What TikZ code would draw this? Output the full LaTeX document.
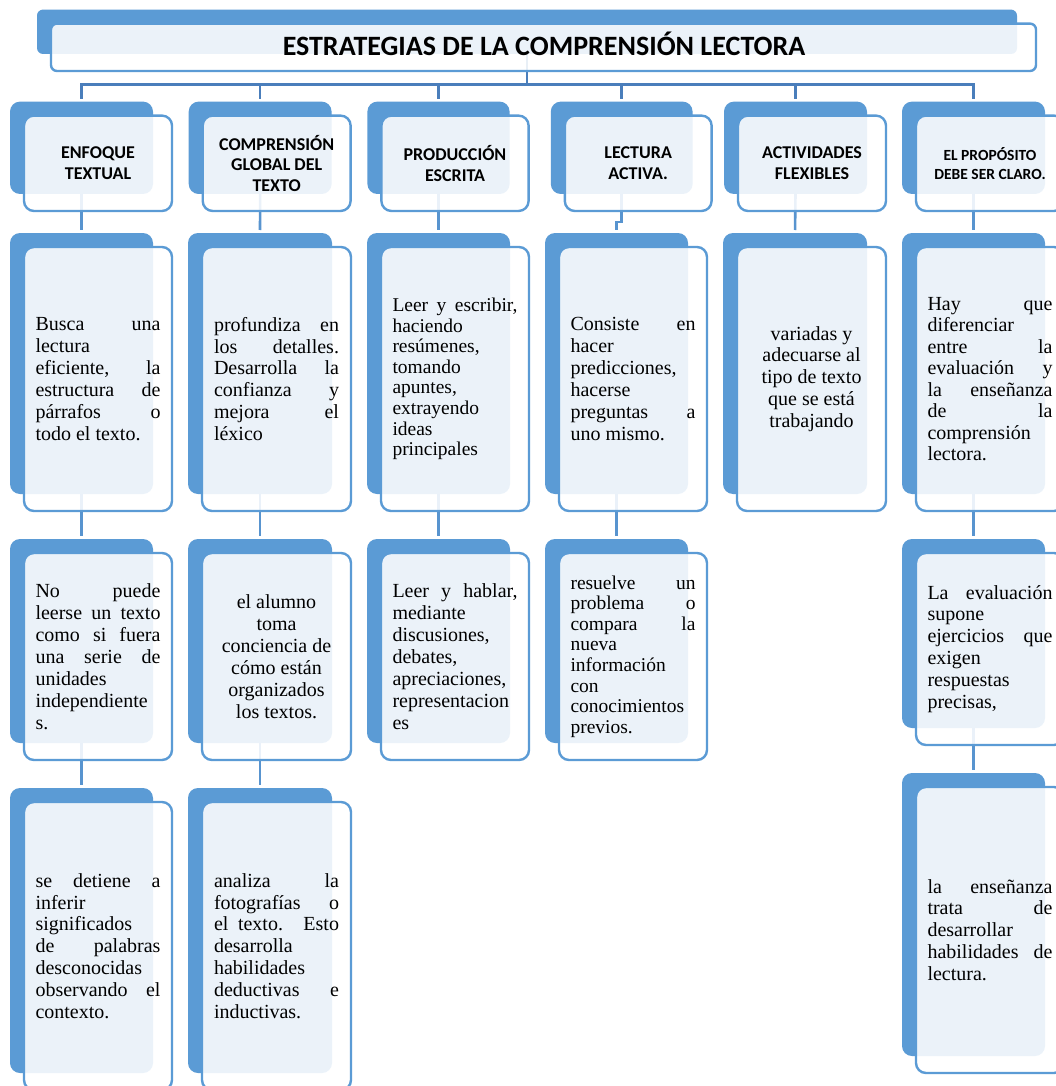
\documentclass[tikz,border=0pt]{standalone}
\usepackage{fontspec}
\setmainfont{Liberation Serif}
\newfontfamily\calib{Carlito}
\usetikzlibrary{fit}
\pgfdeclarelayer{backl}
\pgfdeclarelayer{connl}
\pgfsetlayers{backl,connl,main}
\definecolor{acc}{HTML}{5B9BD5}
\definecolor{busc}{HTML}{4A7EBB}
\definecolor{conc}{HTML}{5894CF}
\tolerance=10000 \hyphenpenalty=10000 \exhyphenpenalty=10000 \hbadness=10000 \vbadness=10000
\tikzset{
 backbox/.style={fill=acc, rounded corners=10pt, inner sep=0pt, outer sep=0pt},
 frontbox/.style={draw=acc, line width=2.4pt, fill=white, fill opacity=0.88, rounded corners=10pt, inner sep=0pt, outer sep=0pt},
 txt/.style={inner sep=0pt, text=black},
 lab/.style={inner sep=0pt, align=center, text=black, font=\calib\bfseries\fontsize{18}{20.7}\selectfont},
 labs/.style={inner sep=0pt, align=center, text=black, font=\calib\bfseries\fontsize{15.5}{18.8}\selectfont},
 busline/.style={draw=busc, line width=2.6pt},
 conline/.style={draw=conc, line width=2.6pt, shorten >=3pt},
}
\newcommand\cardbox[7][txt]{%
 \begin{pgfonlayer}{backl}
  \node[backbox, fit={(#3,#4) (#5,#6)}] (#2b) {};
 \end{pgfonlayer}
 \node[frontbox, fit={({#3+14},{#4+14}) ({#5+19},{#6+17})}] (#2) {};
 \node[#1] (#2t) at (#2.center) {#7};
}
\newcommand\jt[2][21.9]{\parbox{125pt}{\fontsize{20}{#1}\selectfont #2}}
\newcommand\jts[1]{\parbox{125pt}{\fontsize{19.5}{20.6}\selectfont #1}}
\newcommand\ct[1]{\parbox{125pt}{\centering\fontsize{20}{21.9}\selectfont #1}}
\begin{document}
\begin{tikzpicture}[x=1pt,y=-1pt]
\useasboundingbox (0,0) rectangle (1056,1086);
\begin{pgfonlayer}{backl}
 \fill[white] (0,0) rectangle (1056,1086);
\end{pgfonlayer}
% title
\begin{pgfonlayer}{backl}
 \node[backbox, rounded corners=6pt, fit={(37,9.6) (1017,54)}] (tb) {};
\end{pgfonlayer}
\node[frontbox, rounded corners=6pt, fit={(51,23.6) (1036,71)}] (tf) {};
\node[anchor=base, inner sep=0pt, font=\calib\bfseries\fontsize{28}{33}\selectfont] (tt) at (544,55.8) {ESTRATEGIAS DE LA COMPRENSIÓN LECTORA};
% level 1
\cardbox[lab]{a1}{10}{101.6}{153}{194}{ENFOQUE\\TEXTUAL}
\cardbox[lab]{b1}{188.7}{101.6}{331.6}{194}{COMPRENSIÓN\\GLOBAL DEL\\TEXTO}
\cardbox[lab]{c1}{367.4}{101.6}{509.6}{194}{PRODUCCIÓN\\ESCRITA}
\cardbox[lab]{d1}{550.8}{101.6}{692.6}{194}{LECTURA\\ACTIVA.}
\cardbox[lab]{e1}{724}{101.6}{867}{194}{ACTIVIDADES\\FLEXIBLES}
\cardbox[labs]{f1}{902}{101.6}{1045}{194}{EL PROPÓSITO\\DEBE SER CLARO.}
% level 2
\cardbox{a2}{10}{233}{153}{494}{\jt{Busca una\linebreak lectura\linebreak eficiente, la\linebreak estructura de\linebreak párrafos o\linebreak todo el texto.}}
\cardbox{b2}{188}{233}{332}{494}{\jt{profundiza en\linebreak los detalles.\linebreak Desarrolla la\linebreak confianza y\linebreak mejora el\linebreak léxico}}
\cardbox{c2}{367}{233}{510}{494}{\jts{Leer y escribir,\linebreak haciendo\linebreak resúmenes,\linebreak tomando\linebreak apuntes,\linebreak extrayendo\linebreak ideas\linebreak principales}}
\cardbox{d2}{545}{233}{688}{494}{\jt{Consiste en\linebreak hacer\linebreak predicciones,\linebreak hacerse\linebreak preguntas a\linebreak uno mismo.}}
\cardbox{e2}{723}{233}{867}{494}{\ct{variadas y\\adecuarse al\\tipo de texto\\que se está\\trabajando}}
\cardbox{f2}{902}{233}{1045}{494}{\jt[21.5]{Hay que\linebreak diferenciar\linebreak entre la\linebreak evaluación y\linebreak la enseñanza\linebreak de la\linebreak comprensión\linebreak lectora.}}
% level 3
\cardbox{a3}{10}{539}{153}{743}{\jt{No puede\linebreak leerse un texto\linebreak como si fuera\linebreak una serie de\linebreak unidades\linebreak independiente\linebreak s.}}
\cardbox{b3}{188}{539}{332}{743}{\ct{el alumno\\toma\\conciencia de\\cómo están\\organizados\\los textos.}}
\cardbox{c3}{367}{539}{510}{743}{\jt{Leer y hablar,\linebreak mediante\linebreak discusiones,\linebreak debates,\linebreak apreciaciones,\linebreak representacion\linebreak es}}
\cardbox{d3}{545}{539}{688}{743}{\jts{resuelve un\linebreak problema o\linebreak compara la\linebreak nueva\linebreak información\linebreak con\linebreak conocimientos\linebreak previos.}}
\cardbox{f3}{902}{539}{1045}{728}{\jt{La evaluación\linebreak supone\linebreak ejercicios que\linebreak exigen\linebreak respuestas\linebreak precisas,}}
% level 4
\cardbox{a4}{10}{788}{153}{1073}{\jt{se detiene a\linebreak inferir\linebreak significados\linebreak de palabras\linebreak desconocidas\linebreak observando el\linebreak contexto.}}
\cardbox{b4}{188}{788}{332}{1073}{\jt{analiza la\linebreak fotografías o\linebreak el texto. Esto\linebreak desarrolla\linebreak habilidades\linebreak deductivas e\linebreak inductivas.}}
\cardbox{f4}{902}{773}{1045}{1056}{\jt{la enseñanza\linebreak trata de\linebreak desarrollar\linebreak habilidades de\linebreak lectura.}}
% connectors
\coordinate (bus) at (0,84.4);
\coordinate (dk1) at (621.7,222);
\coordinate (dk2) at (616.5,222);
\begin{pgfonlayer}{connl}
 \draw[busline] (tb.south) -- (tb.south |- bus);
 \draw[busline, line cap=rect] (a1b.north |- bus) -- (f1b.north |- bus);
 \foreach \c in {a1b,b1b,c1b,d1b,e1b,f1b}{
  \draw[busline, shorten >=3pt] (\c.north |- bus) -- (\c.north);
 }
 \draw[conline] (a1b.south) -- (a2b.north);
 \draw[conline] (a2b.south) -- (a3b.north);
 \draw[conline] (a3b.south) -- (a4b.north);
 \draw[conline] (b1b.south) -- (b2b.north);
 \draw[conline] (b2b.south) -- (b3b.north);
 \draw[conline] (b3b.south) -- (b4b.north);
 \draw[conline] (c1b.south) -- (c2b.north);
 \draw[conline] (c2b.south) -- (c3b.north);
 \draw[conline] (d1b.south) -- (dk1) -- (dk2) -- (d2b.north);
 \draw[conline] (d2b.south) -- (d3b.north);
 \draw[conline] (e1b.south) -- (e2b.north);
 \draw[conline] (f1b.south) -- (f2b.north);
 \draw[conline] (f2b.south) -- (f3b.north);
 \draw[conline] (f3b.south) -- (f4b.north);
\end{pgfonlayer}
\end{tikzpicture}
\end{document}
